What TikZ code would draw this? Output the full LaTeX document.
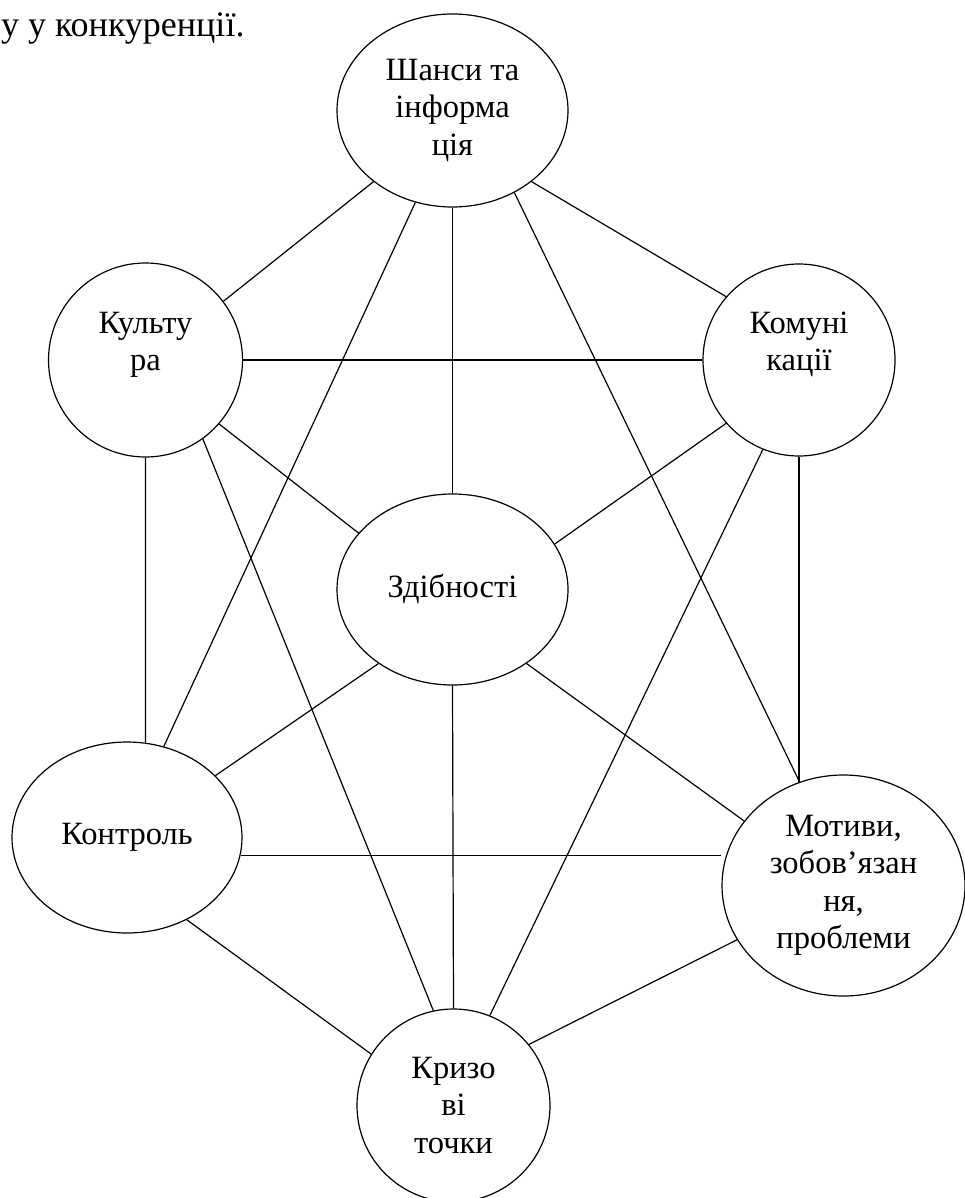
\documentclass[tikz,border=0pt]{standalone}
\usepackage{fontspec}
\setmainfont{Liberation Serif}
\usetikzlibrary{shapes.geometric}
\begin{document}
\begin{tikzpicture}[x=1pt,y=-1pt,
  bub/.style={ellipse, draw, line width=1.2pt, inner sep=0pt, align=center,
              font=\fontsize{32.5}{37.5}\selectfont},
  link/.style={line width=1.2pt}]
\useasboundingbox (0,0) rectangle (965,1198);
\node[anchor=base east, font=\fontsize{36}{40}\selectfont] (hdr) at (248,37) {у у конкуренції.};
\node[bub, minimum width=231pt, minimum height=193pt] (T)  at (452.5,110.5) {Шанси та\\інформа\\ція};
\node[bub, minimum width=194pt, minimum height=194pt] (K)  at (145.5,360)   {Культу\\ра\\\mbox{}};
\node[bub, minimum width=192pt, minimum height=192pt] (Km) at (799,360)     {Комуні\\кації\\\mbox{}};
\node[bub, minimum width=231pt, minimum height=191pt] (Z)  at (452.5,589.5) {Здібності};
\node[bub, minimum width=230pt, minimum height=191pt] (C)  at (127,837.5)   {Контроль};
\node[bub, minimum width=243pt, minimum height=221pt] (M)  at (843.5,885.5) {Мотиви,\\зобов’язан\\ня,\\проблеми};
\node[bub, minimum width=193pt, minimum height=193pt] (Kr) at (453.5,1105.5) {Кризо\\ві\\точки};

\draw[link] (T.222) -- (K.37);
\draw[link] (T.248) -- (C.68);
\draw[link] (T.south) -- (Z.north);
\draw[link] (T.307) -- (M.113);
\draw[link] (T.318) -- (Km.139);
\draw[link] (K.east) -- (Km.west);
\draw[link] (K.south) -- (C.79);
\draw[link] (K.319) -- (Z.149);
\draw[link] (K.306) -- (Kr.102);
\draw[link] (Km.221) -- (Z.24);
\draw[link] (Km.248) -- (Kr.68);
\draw[link] (Km.south) -- (Km.south |- M.114);
\draw[link] (Z.225) -- (C.35);
\draw[link] (Z.south) -- (Kr.north);
\draw[link] (Z.315) -- (M.147);
\draw[link] (C.351) -- (C.351 -| M.west);
\draw[link] (C.306) -- (Kr.148);
\draw[link] (M.207) -- (Kr.39);
\end{tikzpicture}
\end{document}
